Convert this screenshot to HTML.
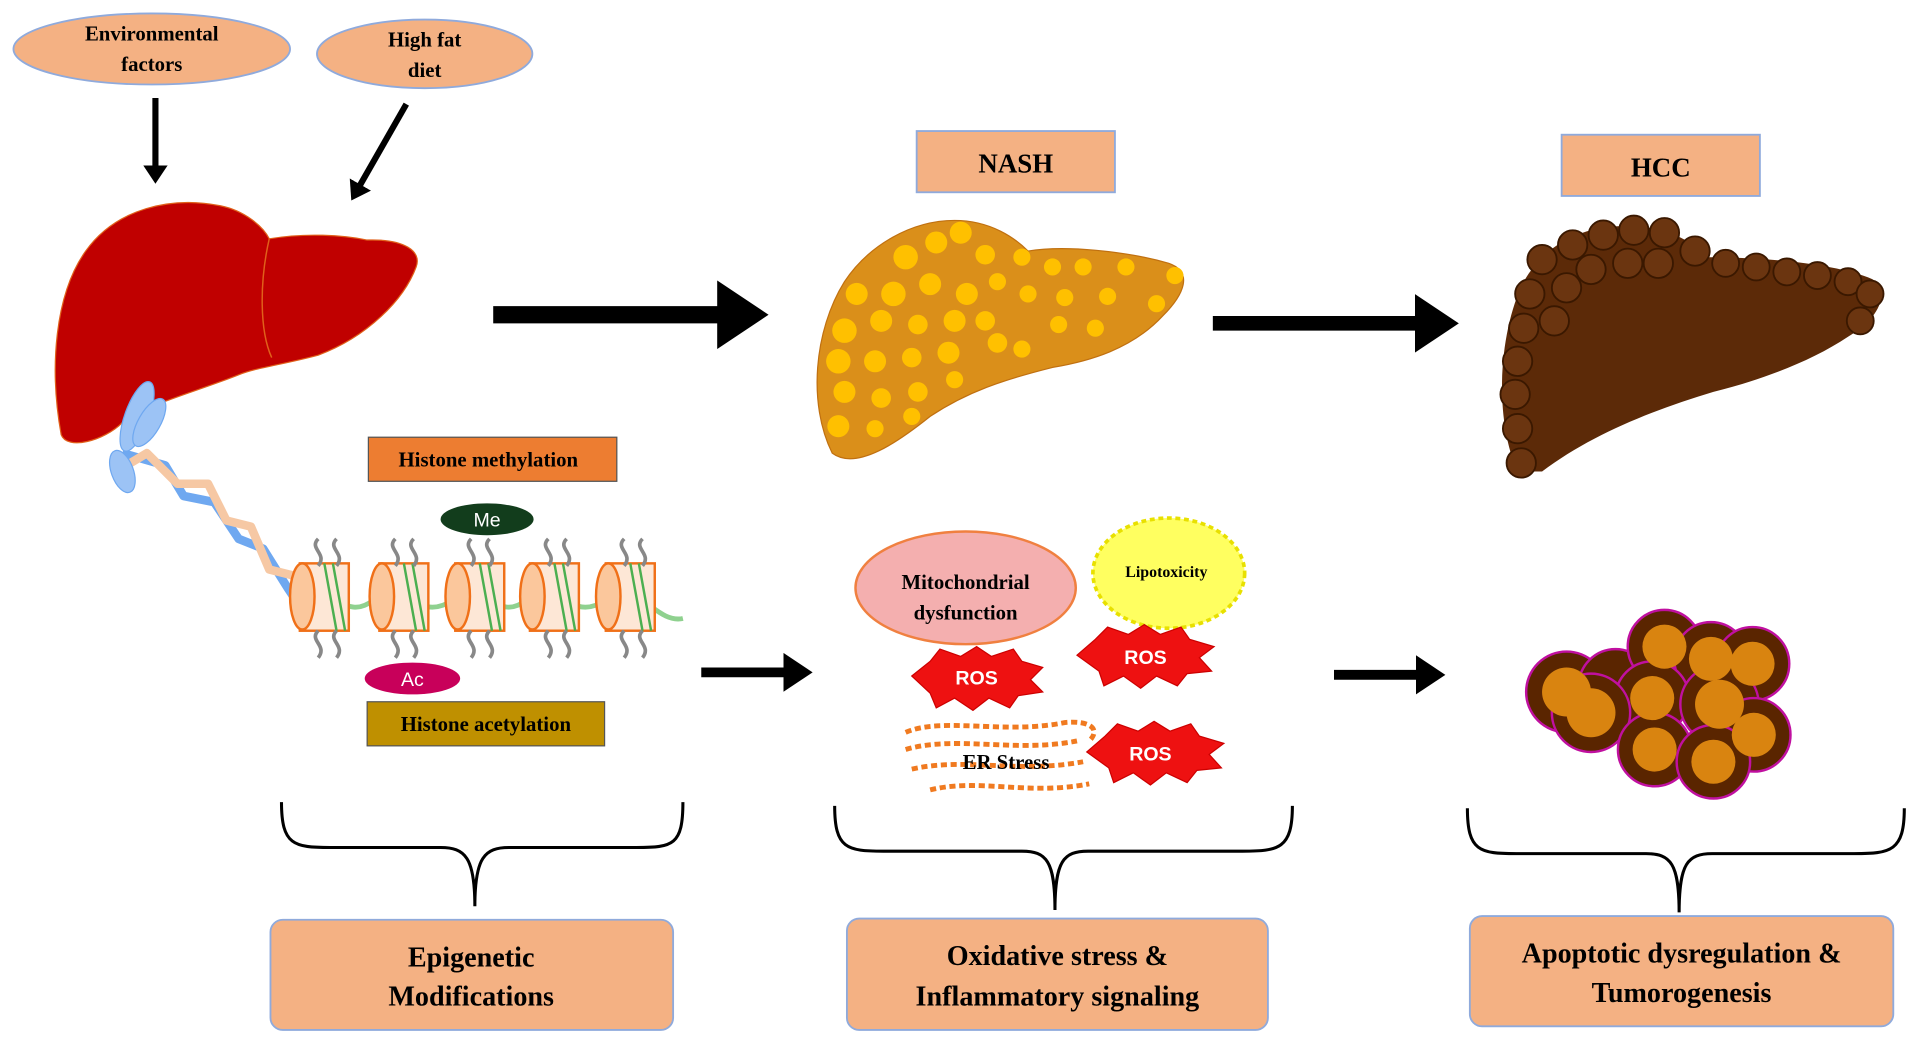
<!DOCTYPE html>
<html><head><meta charset="utf-8"><style>
html,body{margin:0;padding:0;background:#fff;}
svg{display:block;}
text{font-family:"Liberation Serif",serif;font-weight:bold;}
</style></head><body>
<svg width="1919" height="1041" viewBox="0 0 1568 850" preserveAspectRatio="none" xmlns="http://www.w3.org/2000/svg">
<defs>
<marker id="ah" markerWidth="4" markerHeight="4" refX="1" refY="2" orient="auto" markerUnits="strokeWidth"><path d="M0,0 L3,2 L0,4 z" fill="#000"/></marker>
</defs>
<ellipse cx="124" cy="40" rx="113" ry="29" fill="#F4B183" stroke="#8faadc" stroke-width="1.5"/>
<text x="124" y="33" font-size="17" text-anchor="middle">Environmental</text>
<text x="124" y="58" font-size="17" text-anchor="middle">factors</text>
<ellipse cx="347" cy="44" rx="88" ry="28" fill="#F4B183" stroke="#8faadc" stroke-width="1.5"/>
<text x="347" y="38" font-size="17" text-anchor="middle">High fat</text>
<text x="347" y="63" font-size="17" text-anchor="middle">diet</text>
<line x1="127" y1="80" x2="127" y2="140" stroke="#000" stroke-width="5" marker-end="url(#ah)"/>
<line x1="332" y1="85" x2="292" y2="155" stroke="#000" stroke-width="5" marker-end="url(#ah)"/>
<path d="M50,355 C40,300 45,240 70,205 C95,170 140,160 180,168 C200,172 215,185 220,195 C250,190 280,192 300,196 C330,195 345,205 340,218 C330,245 300,275 260,290 C230,298 210,300 195,306 C160,320 120,330 100,345 C85,360 55,368 50,355 Z" fill="#C00000" stroke="#e0601a" stroke-width="1"/>
<path d="M220,195 C212,230 212,270 222,292" fill="none" stroke="#e0601a" stroke-width="1.2"/>
<!-- DNA -->
<g stroke-width="7" fill="none" stroke-linejoin="round">
<path d="M100,370 L135,380 L150,405 L175,410 L195,440 L215,448 L235,480 L245,495" stroke="#6fa8f0"/>
<path d="M95,385 L120,370 L145,395 L170,395 L185,425 L205,430 L220,465 L240,470 L245,490" stroke="#f6c8a4"/>
</g>
<ellipse cx="112" cy="340" rx="10" ry="30" fill="#9cc3f5" stroke="#6fa8f0" transform="rotate(20 112 340)"/>
<ellipse cx="122" cy="345" rx="9" ry="22" fill="#9cc3f5" stroke="#6fa8f0" transform="rotate(30 122 345)"/>
<ellipse cx="100" cy="385" rx="9" ry="18" fill="#9cc3f5" stroke="#6fa8f0" transform="rotate(-20 100 385)"/>
<g>
<path d="M240,490 C270,470 280,510 305,490 C330,470 340,510 370,490 C395,470 405,510 430,490 C455,470 465,510 495,490 C520,470 535,510 558,505" fill="none" stroke="#8fd18f" stroke-width="4"/>
<g fill="#fde7d6" stroke="#f07018" stroke-width="2">
<rect x="245" y="460" width="40" height="55"/><ellipse cx="247" cy="487" rx="10" ry="27" fill="#fbc79c"/>
<rect x="310" y="460" width="40" height="55"/><ellipse cx="312" cy="487" rx="10" ry="27" fill="#fbc79c"/>
<rect x="372" y="460" width="40" height="55"/><ellipse cx="374" cy="487" rx="10" ry="27" fill="#fbc79c"/>
<rect x="433" y="460" width="40" height="55"/><ellipse cx="435" cy="487" rx="10" ry="27" fill="#fbc79c"/>
<rect x="495" y="460" width="40" height="55"/><ellipse cx="497" cy="487" rx="10" ry="27" fill="#fbc79c"/>
</g>
<g stroke="#4caf50" stroke-width="2" fill="none">
<path d="M265,460 L275,515 M272,460 L282,515 M330,460 L340,515 M337,460 L347,515 M392,460 L402,515 M399,460 L409,515 M453,460 L463,515 M460,460 L470,515 M515,460 L525,515 M522,460 L532,515"/>
</g>
<g stroke="#888" stroke-width="3" fill="none">
<path d="M260,440 c-8,8 8,12 0,22 M275,440 c-8,8 8,12 0,22 M323,440 c-8,8 8,12 0,22 M338,440 c-8,8 8,12 0,22 M385,440 c-8,8 8,12 0,22 M400,440 c-8,8 8,12 0,22 M448,440 c-8,8 8,12 0,22 M463,440 c-8,8 8,12 0,22 M510,440 c-8,8 8,12 0,22 M525,440 c-8,8 8,12 0,22"/>
<path d="M260,515 c-8,8 8,12 0,22 M275,515 c-8,8 8,12 0,22 M323,515 c-8,8 8,12 0,22 M338,515 c-8,8 8,12 0,22 M385,515 c-8,8 8,12 0,22 M400,515 c-8,8 8,12 0,22 M448,515 c-8,8 8,12 0,22 M463,515 c-8,8 8,12 0,22 M510,515 c-8,8 8,12 0,22 M525,515 c-8,8 8,12 0,22"/>
</g>
</g>
<rect x="301" y="357" width="203" height="36" fill="#ED7D31" stroke="#555" stroke-width="1"/>
<text x="399" y="381" font-size="17" text-anchor="middle">Histone methylation</text>
<ellipse cx="398" cy="424" rx="38" ry="13" fill="#123d1c"/>
<text x="398" y="430" font-size="16" fill="#fff" text-anchor="middle" style="font-family:'Liberation Sans',sans-serif;font-weight:normal">Me</text>
<ellipse cx="337" cy="554" rx="39" ry="13" fill="#C8005A"/>
<text x="337" y="560" font-size="16" fill="#fff" text-anchor="middle" style="font-family:'Liberation Sans',sans-serif;font-weight:normal">Ac</text>
<rect x="300" y="573" width="194" height="36" fill="#BF9000" stroke="#555" stroke-width="1"/>
<text x="397" y="597" font-size="17" text-anchor="middle">Histone acetylation</text>
<line x1="403" y1="257" x2="600" y2="257" stroke="#000" stroke-width="14" marker-end="url(#ah)"/>
<line x1="991" y1="264" x2="1168" y2="264" stroke="#000" stroke-width="12" marker-end="url(#ah)"/>
<line x1="573" y1="549" x2="648" y2="549" stroke="#000" stroke-width="8" marker-end="url(#ah)"/>
<line x1="1090" y1="551" x2="1165" y2="551" stroke="#000" stroke-width="8" marker-end="url(#ah)"/>
<rect x="749" y="107" width="162" height="50" fill="#F4B183" stroke="#8faadc" stroke-width="1.5"/>
<text x="830" y="141" font-size="22" text-anchor="middle">NASH</text>
<path d="M680,370 C660,330 665,270 690,230 C710,200 745,180 780,180 C810,180 830,195 840,205 C870,200 920,205 955,215 C975,222 968,240 950,258 C925,285 890,295 860,300 C820,310 790,320 760,340 C735,360 700,385 680,370 Z" fill="#DA8F1A" stroke="#c07010"/>
<g fill="#FFC000">
<circle cx="740" cy="210" r="10"/><circle cx="765" cy="198" r="9"/><circle cx="785" cy="190" r="9"/><circle cx="805" cy="208" r="8"/><circle cx="700" cy="240" r="9"/><circle cx="730" cy="240" r="10"/><circle cx="760" cy="232" r="9"/><circle cx="790" cy="240" r="9"/><circle cx="815" cy="230" r="7"/><circle cx="835" cy="210" r="7"/><circle cx="860" cy="218" r="7"/><circle cx="885" cy="218" r="7"/><circle cx="920" cy="218" r="7"/><circle cx="960" cy="225" r="7"/><circle cx="690" cy="270" r="10"/><circle cx="720" cy="262" r="9"/><circle cx="750" cy="265" r="8"/><circle cx="780" cy="262" r="9"/><circle cx="805" cy="262" r="8"/><circle cx="840" cy="240" r="7"/><circle cx="870" cy="243" r="7"/><circle cx="905" cy="242" r="7"/><circle cx="945" cy="248" r="7"/><circle cx="685" cy="295" r="10"/><circle cx="715" cy="295" r="9"/><circle cx="745" cy="292" r="8"/><circle cx="775" cy="288" r="9"/><circle cx="815" cy="280" r="8"/><circle cx="865" cy="265" r="7"/><circle cx="895" cy="268" r="7"/><circle cx="690" cy="320" r="9"/><circle cx="720" cy="325" r="8"/><circle cx="750" cy="320" r="8"/><circle cx="780" cy="310" r="7"/><circle cx="835" cy="285" r="7"/><circle cx="685" cy="348" r="9"/><circle cx="715" cy="350" r="7"/><circle cx="745" cy="340" r="7"/>
</g>
<rect x="1276" y="110" width="162" height="50" fill="#F4B183" stroke="#8faadc" stroke-width="1.5"/>
<text x="1357" y="144" font-size="22" text-anchor="middle">HCC</text>
<path d="M1240,385 C1220,340 1225,270 1245,230 C1265,195 1300,182 1340,185 C1370,188 1385,200 1395,210 C1440,210 1500,215 1530,228 C1545,240 1535,260 1510,275 C1480,295 1440,310 1400,320 C1350,335 1300,355 1260,385 Z" fill="#5C2A08"/>
<g fill="#6b3510" stroke="#3a1800" stroke-width="1.5">
<circle cx="1260" cy="212" r="12"/><circle cx="1285" cy="200" r="12"/><circle cx="1310" cy="192" r="12"/><circle cx="1335" cy="188" r="12"/><circle cx="1360" cy="190" r="12"/><circle cx="1385" cy="205" r="12"/><circle cx="1300" cy="220" r="12"/><circle cx="1330" cy="215" r="12"/><circle cx="1355" cy="215" r="12"/><circle cx="1250" cy="240" r="12"/><circle cx="1280" cy="235" r="12"/><circle cx="1245" cy="268" r="12"/><circle cx="1270" cy="262" r="12"/><circle cx="1240" cy="295" r="12"/><circle cx="1238" cy="322" r="12"/><circle cx="1240" cy="350" r="12"/><circle cx="1243" cy="378" r="12"/><circle cx="1410" cy="215" r="11"/><circle cx="1435" cy="218" r="11"/><circle cx="1460" cy="222" r="11"/><circle cx="1485" cy="225" r="11"/><circle cx="1510" cy="230" r="11"/><circle cx="1528" cy="240" r="11"/><circle cx="1520" cy="262" r="11"/>
</g>
<ellipse cx="789" cy="480" rx="90" ry="46" fill="#F4AFAF" stroke="#f08040" stroke-width="2"/>
<text x="789" y="481" font-size="17" text-anchor="middle">Mitochondrial</text>
<text x="789" y="506" font-size="17" text-anchor="middle">dysfunction</text>
<ellipse cx="955" cy="468" rx="62" ry="45" fill="#ffff60" stroke="#e8e000" stroke-dasharray="4 3" stroke-width="3"/>
<text x="953" y="471" font-size="13" text-anchor="middle">Lipotoxicity</text>
<g fill="#ee1111" stroke="#c00" stroke-width="1">
<polygon points="745,552 760,540 768,530 785,536 798,528 810,536 828,530 835,540 852,545 842,555 852,565 832,568 825,578 808,570 795,580 780,570 765,578 760,566"/>
<polygon points="880,535 895,522 905,512 922,518 935,510 948,518 965,512 972,522 992,528 980,537 990,548 970,550 962,560 945,552 932,562 918,552 902,560 898,548"/>
<polygon points="888,614 903,601 913,591 930,597 943,589 956,597 973,591 980,601 1000,607 988,616 998,627 978,629 970,639 953,631 940,641 926,631 910,639 906,627"/>
</g>
<text x="798" y="559" font-size="16" fill="#fff" text-anchor="middle" style="font-family:'Liberation Sans',sans-serif">ROS</text>
<text x="936" y="542" font-size="16" fill="#fff" text-anchor="middle" style="font-family:'Liberation Sans',sans-serif">ROS</text>
<text x="940" y="621" font-size="16" fill="#fff" text-anchor="middle" style="font-family:'Liberation Sans',sans-serif">ROS</text>
<g fill="none" stroke="#f07a20" stroke-width="4" stroke-dasharray="5 3">
<path d="M740,598 C770,585 820,600 870,590 C890,588 900,595 890,605"/>
<path d="M740,612 C780,600 830,615 880,605"/>
<path d="M745,628 C790,618 830,632 885,622"/>
<path d="M760,645 C800,635 840,650 890,640"/>
</g>
<text x="822" y="628" font-size="17" text-anchor="middle">ER Stress</text>
<g stroke="#c010a0" stroke-width="2">
<g fill="#5a2500">
<circle cx="1280" cy="565" r="33"/><circle cx="1320" cy="560" r="30"/><circle cx="1360" cy="528" r="30"/><circle cx="1398" cy="538" r="30"/><circle cx="1432" cy="542" r="30"/><circle cx="1350" cy="570" r="30"/><circle cx="1300" cy="582" r="32"/><circle cx="1405" cy="575" r="32"/><circle cx="1433" cy="600" r="30"/><circle cx="1352" cy="612" r="30"/><circle cx="1400" cy="622" r="30"/>
</g>
</g>
<g fill="#D98410">
<circle cx="1280" cy="565" r="20"/><circle cx="1360" cy="528" r="18"/><circle cx="1398" cy="538" r="18"/><circle cx="1432" cy="542" r="18"/><circle cx="1350" cy="570" r="18"/><circle cx="1300" cy="582" r="20"/><circle cx="1405" cy="575" r="20"/><circle cx="1433" cy="600" r="18"/><circle cx="1352" cy="612" r="18"/><circle cx="1400" cy="622" r="18"/>
</g>
<g fill="none" stroke="#000" stroke-width="2.5">
<path d="M230,655 C230,690 240,692 270,692 L360,692 C380,692 388,700 388,740 C388,700 396,692 416,692 L520,692 C550,692 558,690 558,655"/>
<path d="M682,658 C682,693 692,695 722,695 L835,695 C855,695 862,703 862,743 C862,703 869,695 889,695 L1015,695 C1045,695 1056,693 1056,658"/>
<path d="M1199,660 C1199,695 1209,697 1239,697 L1345,697 C1365,697 1372,705 1372,745 C1372,705 1379,697 1399,697 L1515,697 C1545,697 1556,695 1556,660"/>
</g>
<rect x="221" y="751" width="329" height="90" rx="10" fill="#F4B183" stroke="#8faadc" stroke-width="1.5"/>
<text x="385" y="789" font-size="23" text-anchor="middle">Epigenetic</text>
<text x="385" y="821" font-size="23" text-anchor="middle">Modifications</text>
<rect x="692" y="750" width="344" height="91" rx="10" fill="#F4B183" stroke="#8faadc" stroke-width="1.5"/>
<text x="864" y="788" font-size="23" text-anchor="middle">Oxidative stress &amp;</text>
<text x="864" y="821" font-size="23" text-anchor="middle">Inflammatory signaling</text>
<rect x="1201" y="748" width="346" height="90" rx="10" fill="#F4B183" stroke="#8faadc" stroke-width="1.5"/>
<text x="1374" y="786" font-size="23" text-anchor="middle">Apoptotic dysregulation &amp;</text>
<text x="1374" y="818" font-size="23" text-anchor="middle">Tumorogenesis</text>
</svg>
</body></html>
